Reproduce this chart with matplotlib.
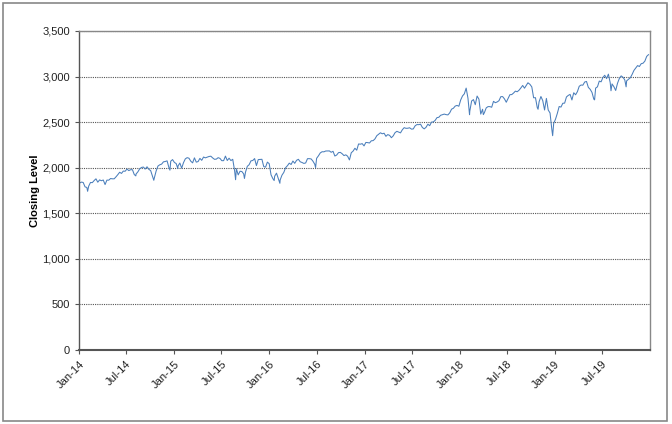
import pandas as pd
import matplotlib
matplotlib.use('Agg')
import matplotlib.pyplot as plt
from matplotlib import dates
import matplotlib.ticker as ticker
from matplotlib.patches import Rectangle

plt.rcParams['font.family'] = ['Liberation Sans', 'DejaVu Sans']

# weekly closes (fridays)
close_2014 = [1831, 1842, 1838, 1790, 1783, 1797, 1838, 1836, 1859, 1878, 1841, 1866, 1857,
              1865, 1815, 1864, 1863, 1881, 1878, 1878, 1900, 1924, 1950, 1937, 1963, 1961,
              1985, 1968, 1978, 1978, 1925, 1931, 1955, 1988, 2003, 2007, 1985, 2010, 1982,
              1968, 1906, 1887, 1964, 2018, 2032, 2039, 2064, 2068, 2075, 2002, 2071, 2089]
close_2015 = [2058, 2045, 2019, 2051, 1995, 2055, 2097, 2110, 2104, 2071, 2053, 2108, 2061,
              2067, 2102, 2081, 2117, 2108, 2116, 2123, 2126, 2107, 2092, 2094, 2110, 2102,
              2077, 2077, 2127, 2079, 2104, 2078, 2092, 1971, 1989, 1921, 1961, 1958, 1932,
              1951, 2015, 2033, 2075, 2079, 2100, 2023, 2089, 2090, 2092, 2012, 2006, 2061]
close_2016 = [2044, 1922, 1880, 1907, 1940, 1880, 1865, 1918, 1948, 2000, 2022, 2050, 2035,
              2073, 2048, 2081, 2092, 2065, 2057, 2047, 2052, 2099, 2099, 2096, 2071, 2037,
              2103, 2130, 2162, 2175, 2174, 2183, 2184, 2184, 2169, 2180, 2128, 2139, 2165,
              2168, 2153, 2133, 2141, 2126, 2085, 2164, 2182, 2213, 2192, 2260, 2258, 2264, 2239]
close_2017 = [2277, 2275, 2271, 2295, 2297, 2316, 2351, 2367, 2383, 2372, 2378, 2344, 2363,
              2355, 2329, 2349, 2384, 2399, 2391, 2382, 2416, 2439, 2432, 2433, 2438, 2423,
              2425, 2459, 2473, 2472, 2477, 2441, 2426, 2443, 2477, 2461, 2500, 2502, 2519,
              2549, 2553, 2575, 2581, 2588, 2582, 2579, 2602, 2642, 2652, 2676, 2683, 2674]
close_2018 = [2743, 2787, 2810, 2873, 2762, 2620, 2732, 2747, 2691, 2786, 2752, 2588, 2641,
              2604, 2656, 2670, 2670, 2663, 2728, 2713, 2721, 2735, 2779, 2780, 2755, 2718,
              2760, 2801, 2802, 2819, 2840, 2833, 2850, 2875, 2902, 2872, 2905, 2930, 2914,
              2886, 2767, 2768, 2659, 2723, 2781, 2736, 2633, 2760, 2633, 2600, 2417, 2486]
close_2019 = [2532, 2596, 2671, 2665, 2707, 2708, 2776, 2793, 2804, 2743, 2822, 2800, 2834,
              2893, 2907, 2905, 2940, 2946, 2881, 2860, 2826, 2752, 2873, 2887, 2950, 2942,
              2990, 3014, 2977, 3026, 2932, 2919, 2889, 2847, 2926, 2979, 3007, 2992, 2962,
              2952, 2970, 2986, 3023, 3067, 3093, 3120, 3110, 3141, 3146, 3169, 3221, 3240]

# daily highs / lows visible between the weekly points
extreme_dates = ['2014-02-03', '2014-08-07', '2014-10-15', '2014-12-16', '2015-01-15',
                 '2015-08-25', '2015-09-28', '2016-01-20', '2016-02-11', '2016-06-27',
                 '2018-02-08', '2018-04-02', '2018-09-20', '2018-10-29', '2018-12-24',
                 '2019-06-03', '2019-08-05', '2019-10-02']
extreme_vals = [1741, 1910, 1862, 1973, 1992, 1868, 1882, 1859, 1829, 2001,
                2581, 2582, 2931, 2641, 2351, 2744, 2844, 2887]

weekly = close_2014 + close_2015 + close_2016 + close_2017 + close_2018 + close_2019
wk_dates = pd.date_range('2014-01-03', '2019-12-27', freq='W-FRI')
s = pd.Series(weekly, index=wk_dates)
s = pd.concat([s, pd.Series(extreme_vals, index=pd.to_datetime(extreme_dates))]).sort_index()

fig = plt.figure(figsize=(6.72, 4.24), dpi=100)
ax = fig.add_axes([0.1176, 0.1745, 0.849, 0.7525])

ax.plot(s.index, s.values, color='#4a7ebb', linewidth=0.75)

#axe y
ax.set_ylim(0, 3500)
ax.set_yticks(range(0, 3501, 500))
ax.yaxis.set_major_formatter(ticker.StrMethodFormatter('{x:,.0f}'))
ax.set_ylabel('Closing Level', fontsize=8, fontweight='bold', labelpad=2)
ax.grid(axis='y', linestyle=(0, (1, 1)), color='#555555', linewidth=0.8)

#axe x
ax.set_xlim(pd.Timestamp('2014-01-01'), pd.Timestamp('2019-12-31'))
ax.xaxis.set_major_locator(dates.MonthLocator(bymonth=[1, 7]))
ax.xaxis.set_major_formatter(dates.DateFormatter('%b-%y'))
plt.setp(ax.get_xticklabels(), rotation=45, ha='right', rotation_mode='anchor')

ax.tick_params(labelsize=8, length=3, color='#555555', labelcolor='#222222')
for sp in ax.spines.values():
    sp.set_color('#888888')
    sp.set_linewidth(1.0)
ax.spines['left'].set_color('#555555')
ax.spines['bottom'].set_color('#555555')
ax.spines['bottom'].set_linewidth(1.5)

# cadre autour de la figure
fig.patches.append(Rectangle((0.005, 0.008), 0.988, 0.985, transform=fig.transFigure,
                             fill=False, edgecolor='#888888', linewidth=1.2))

fig.savefig('out.png', dpi=100)
